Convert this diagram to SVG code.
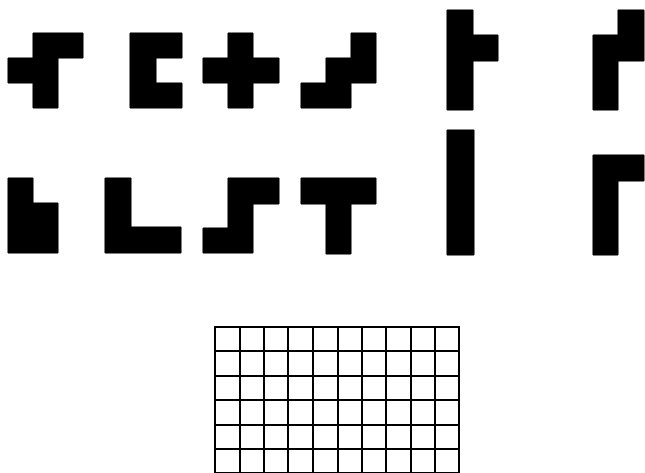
<svg xmlns="http://www.w3.org/2000/svg" width="645" height="473" viewBox="0 0 645 473">
<style>
.pc{fill:#000;stroke:#000;stroke-width:1;stroke-linejoin:miter}
.gl{stroke:#000;stroke-width:2;fill:none}
</style>
<rect width="645" height="473" fill="#fff"/>
<g id="pieceF"><path class="pc" d="M33 33H83V58H58V108H33V83H8V58H33Z"/></g>
<g id="pieceU"><path class="pc" d="M130 33H182V58H156V83H182V108H130Z"/></g>
<g id="pieceX"><path class="pc" d="M228 33H253V58H279V83H253V108H228V83H203V58H228Z"/></g>
<g id="pieceW"><path class="pc" d="M351 33H376V83H351V108H301V83H326V58H351Z"/></g>
<g id="pieceY"><path class="pc" d="M447 10H473V35H498V61H473V110H447Z"/></g>
<g id="pieceN"><path class="pc" d="M618 10H644V61H618V110H593V35H618Z"/></g>
<g id="pieceP"><path class="pc" d="M8 178H33V203H58V253H8Z"/></g>
<g id="pieceV"><path class="pc" d="M105 178H131V227H181V253H105Z"/></g>
<g id="pieceZ"><path class="pc" d="M228 178H279V204H253V253H203V228H228Z"/></g>
<g id="pieceT"><path class="pc" d="M301 178H376V204H351V254H326V204H301Z"/></g>
<g id="pieceI"><path class="pc" d="M447 130H474V255H447Z"/></g>
<g id="pieceL"><path class="pc" d="M593 155H644V181H618V255H593Z"/></g>
<g id="board">
<path class="gl" d="M215 326V473M240 326V473M264 326V473M288 326V473M313 326V473M338 326V473M362 326V473M386 326V473M411 326V473M435 326V473M459 326V473"/>
<path class="gl" d="M214 327H460M214 351H460M214 376H460M214 400H460M214 425H460M214 449H460M214 473H460"/>
</g>
</svg>
